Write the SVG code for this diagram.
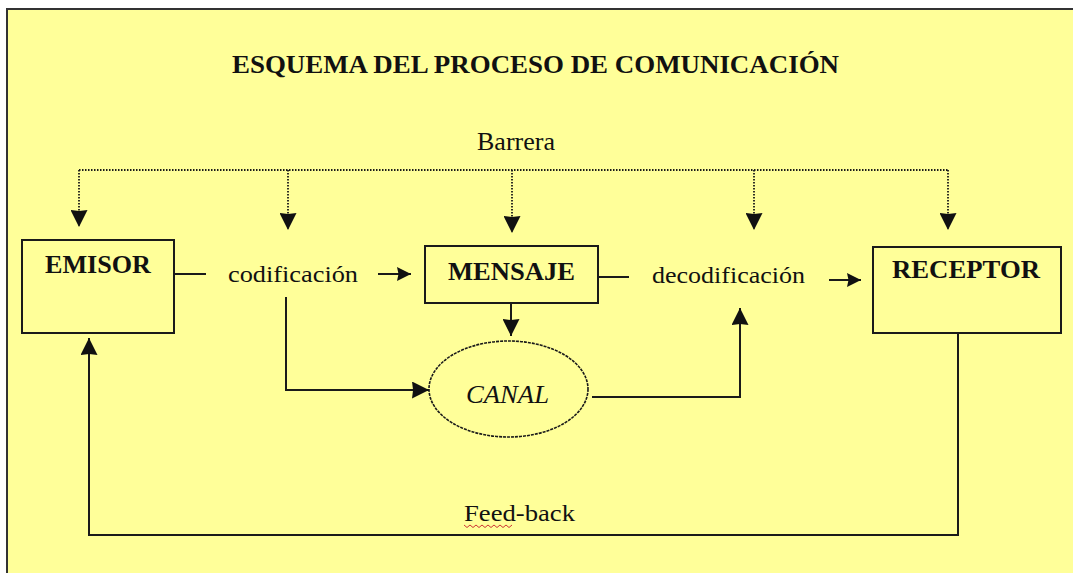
<svg xmlns="http://www.w3.org/2000/svg" width="1073" height="573" viewBox="0 0 1073 573">
<defs>
<marker id="ah" viewBox="0 0 14 14" refX="14" refY="7" markerWidth="16" markerHeight="14" markerUnits="userSpaceOnUse" orient="auto">
<path d="M0,0 L14,7 L0,14 L1.5,7 z" fill="#111111"/>
</marker>
<marker id="ahd" viewBox="0 0 16 16" refX="16" refY="8" markerWidth="18" markerHeight="17" markerUnits="userSpaceOnUse" orient="auto">
<path d="M0,0 L16,8 L0,16 L1,8 z" fill="#111111"/>
</marker>
</defs>
<style>
.ser{font-family:"Liberation Serif","Times New Roman",serif;fill:#111111}
.b{font-weight:bold}
.box{fill:none;stroke:#1a1a1a;stroke-width:2}
.ln{fill:none;stroke:#1a1a1a;stroke-width:2}
.dot{fill:none;stroke:#1a1a1a;stroke-width:1.8;stroke-dasharray:1.5 1.5}
</style>
<rect x="0" y="0" width="1073" height="573" fill="#ffffff"/>
<rect x="7" y="9" width="1066" height="564" fill="#ffff99"/>
<path d="M7,573 L7,9 L1073,9" fill="none" stroke="#333333" stroke-width="2"/>

<text class="ser b" x="232" y="73" font-size="25" textLength="607" lengthAdjust="spacingAndGlyphs">ESQUEMA DEL PROCESO DE COMUNICACIÓN</text>
<text id="barrera" class="ser" x="477" y="150" font-size="25" textLength="78" lengthAdjust="spacingAndGlyphs">Barrera</text>
<text id="codificacion" class="ser" x="228" y="282" font-size="24" textLength="130" lengthAdjust="spacingAndGlyphs">codificación</text>
<text id="decodificacion" class="ser" x="652" y="283" font-size="24" textLength="153" lengthAdjust="spacingAndGlyphs">decodificación</text>
<g id="feedback">
<text class="ser" x="464" y="521" font-size="24" textLength="111" lengthAdjust="spacingAndGlyphs">Feed-back</text>
<path d="M464,525 l3,2.5 l3,-2.5 l3,2.5 l3,-2.5 l3,2.5 l3,-2.5 l3,2.5 l3,-2.5 l3,2.5 l3,-2.5 l3,2.5 l3,-2.5 l3,2.5 l3,-2.5 l3,2.5 l3,-2.5" fill="none" stroke="#cc3333" stroke-width="1"/>
</g>

<g id="emisor">
<rect class="box" x="22" y="240" width="152" height="93"/>
<text class="ser b" x="45" y="273" font-size="26" textLength="106" lengthAdjust="spacingAndGlyphs">EMISOR</text>
</g>
<g id="mensaje">
<rect class="box" x="425" y="246" width="173" height="57"/>
<text class="ser b" x="448" y="280" font-size="26" textLength="127" lengthAdjust="spacingAndGlyphs">MENSAJE</text>
</g>
<g id="receptor">
<rect class="box" x="873" y="247" width="188" height="86"/>
<text class="ser b" x="892" y="278" font-size="26" textLength="148" lengthAdjust="spacingAndGlyphs">RECEPTOR</text>
</g>
<g id="canal">
<ellipse cx="508.5" cy="389" rx="79.5" ry="48" fill="none" stroke="#1a1a1a" stroke-width="1.6" stroke-dasharray="3 1"/>
<text class="ser" font-style="italic" x="466" y="403" font-size="26" textLength="83" lengthAdjust="spacingAndGlyphs">CANAL</text>
</g>

<g id="connectors">
<path class="dot" d="M79,170 L948,170"/>
<path class="dot" d="M79,170 L79,227" marker-end="url(#ahd)"/>
<path class="dot" d="M288,170 L288,230" marker-end="url(#ahd)"/>
<path class="dot" d="M512,170 L512,233" marker-end="url(#ahd)"/>
<path class="dot" d="M754,170 L754,230" marker-end="url(#ahd)"/>
<path class="dot" d="M948,170 L948,230" marker-end="url(#ahd)"/>
<path class="ln" d="M174,274 L206,274"/>
<path class="ln" d="M378,274 L411,274" marker-end="url(#ah)"/>
<path class="ln" d="M598,277 L629,277"/>
<path class="ln" d="M829,280 L861,280" marker-end="url(#ah)"/>
<path class="ln" d="M511,303 L511,336" marker-end="url(#ahd)"/>
<path class="ln" d="M286,297 L286,390 L429,390" marker-end="url(#ahd)"/>
<path class="ln" d="M592,397 L740,397 L740,308" marker-end="url(#ahd)"/>
<path class="ln" d="M958,333 L958,535 L89,535 L89,338" marker-end="url(#ahd)"/>
</g>
</svg>
